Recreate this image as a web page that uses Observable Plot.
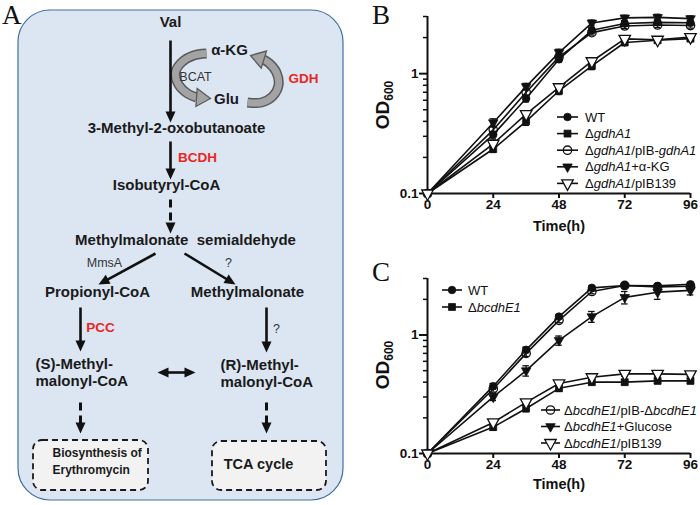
<!DOCTYPE html>
<html><head><meta charset="utf-8">
<script src="https://cdn.jsdelivr.net/npm/d3@7"></script>
<script src="https://cdn.jsdelivr.net/npm/@observablehq/plot@0.6"></script>
<style>
html,body{margin:0;padding:0;background:#fff;}
#fig{position:relative;width:700px;height:505px;overflow:hidden;background:#fff;font-family:"Liberation Sans",Arial,sans-serif;}
.pane{position:absolute;}
.pane svg{display:block;}
.letter{position:absolute;font-family:"Liberation Serif","Times New Roman",serif;font-size:27px;line-height:30px;color:#111;}
</style></head><body><div id="fig"></div>
<script>
// ---------------- DATA ----------------
const time = [0, 24, 36, 48, 60, 72, 84, 96];

// Panel B (OD600)
const bLabels = ["WT", "Δ_gdhA1_", "Δ_gdhA1_/pIB-_gdhA1_", "Δ_gdhA1_+α-KG", "Δ_gdhA1_/pIB139"];
const bWT     = [0.1, 0.31, 0.62, 1.32, 2.30, 2.62, 2.68, 2.66];
const bGdhA1  = [0.1, 0.235, 0.40, 0.72, 1.16, 1.82, 1.90, 1.96];
const bComp   = [0.1, 0.34, 0.70, 1.38, 2.20, 2.50, 2.55, 2.52];
const bAKG    = [0.1, 0.39, 0.78, 1.50, 2.65, 2.92, 2.95, 2.88];
const bPIB139 = [0.1, 0.26, 0.46, 0.77, 1.27, 1.95, 1.92, 2.02];
const bErrWT     = [0, 0.02, 0.04, 0.08, 0.12, 0.12, 0.15, 0.14];
const bErrGdhA1  = [0, 0.015, 0.03, 0.05, 0.08, 0.1, 0.1, 0.1];
const bErrComp   = [0, 0.02, 0.04, 0.08, 0.1, 0.12, 0.12, 0.12];
const bErrAKG    = [0, 0.03, 0.05, 0.1, 0.15, 0.15, 0.18, 0.15];
const bErrPIB139 = [0, 0.02, 0.03, 0.05, 0.08, 0.12, 0.1, 0.12];

// Panel C (OD600)
const cLabels = ["WT", "Δ_bcdhE1_", "Δ_bcdhE1_/pIB-Δ_bcdhE1_", "Δ_bcdhE1_+Glucose", "Δ_bcdhE1_/pIB139"];
const cWT     = [0.1, 0.37, 0.75, 1.43, 2.50, 2.62, 2.60, 2.68];
const cMut    = [0.1, 0.167, 0.24, 0.355, 0.40, 0.40, 0.41, 0.41];
const cComp   = [0.1, 0.35, 0.70, 1.33, 2.33, 2.62, 2.55, 2.58];
const cGlc    = [0.1, 0.30, 0.50, 0.90, 1.43, 2.08, 2.30, 2.38];
const cPIB139 = [0.1, 0.183, 0.27, 0.39, 0.44, 0.47, 0.47, 0.465];
const cErrWT     = [0, 0.02, 0.04, 0.06, 0.1, 0.1, 0.1, 0.1];
const cErrMut    = [0, 0.01, 0.015, 0.02, 0.02, 0.02, 0.02, 0.02];
const cErrComp   = [0, 0.02, 0.04, 0.06, 0.1, 0.1, 0.12, 0.1];
const cErrGlc    = [0, 0.02, 0.05, 0.08, 0.15, 0.25, 0.3, 0.2];
const cErrPIB139 = [0, 0.01, 0.015, 0.02, 0.02, 0.02, 0.02, 0.02];

const xTicks = [0, 24, 48, 72, 96];
const yMajor = [0.1, 1];
const yMinor = [0.2, 0.3, 0.4, 0.5, 0.6, 0.7, 0.8, 0.9, 2, 3];

// Panel A (pathway diagram) texts
const nodeText = ["Val", "3-Methyl-2-oxobutanoate", "Isobutyryl-CoA", "Methylmalonate\u00a0 semialdehyde",
                  "Propionyl-CoA", "Methylmalonate", "α-KG", "Glu"];
const sideText = ["(S)-Methyl-", "malonyl-CoA", "(R)-Methyl-", "malonyl-CoA"];
const enzymeText = ["BCAT", "GDH", "BCDH", "PCC", "MmsA", "?", "?"];
const enzymeKind = ["plain", "red", "red", "red", "plain", "plain", "plain"];
const boxText = ["Biosynthesis of", "Erythromycin", "TCA cycle"];

// ---------------- LAYOUT (diagram geometry, pixels) ----------------
const nodeX = [170, 176, 166, 185, 97, 247, 229, 226];
const nodeY = [22, 128, 185, 240, 292, 292, 50, 99];
const sideX = [35, 35, 220, 220];
const sideY = [364, 381, 365, 382];
const enzX = [195, 303, 197, 100, 104, 228, 276];
const enzY = [76, 78, 157, 327, 262, 262, 328];
const arrowsA = [
  {x1:170, y1:40,  x2:170, y2:122, dash:false},
  {x1:170, y1:141, x2:170, y2:179, dash:false},
  {x1:170, y1:199, x2:170, y2:233, dash:true},
  {x1:155, y1:253, x2:98,  y2:284, dash:false},
  {x1:184, y1:253, x2:235, y2:284, dash:false},
  {x1:80,  y1:307, x2:80,  y2:351, dash:false},
  {x1:266, y1:307, x2:266, y2:352, dash:false},
  {x1:157, y1:372, x2:195, y2:372, dash:false, both:true},
  {x1:80,  y1:402, x2:80,  y2:433, dash:true},
  {x1:266, y1:402, x2:266, y2:433, dash:true}
];
const ribbonL = [[206,53],[193,55],[181,62],[175,72],[178,84],[187,93],[196,97]];
const ribbonLTip = [210, 98];
const ribbonR = [[247,102],[261,102],[272,96],[278,85],[276,72],[269,63],[263,59]];
const ribbonRTip = [250, 55];

// ---------------- helpers ----------------
const FONT = "Liberation Sans, Arial, Helvetica, sans-serif";
const fig = document.getElementById("fig");
function place(el, left, top) {
  const d = document.createElement("div");
  d.className = "pane"; d.style.left = left + "px"; d.style.top = top + "px";
  d.appendChild(el); fig.appendChild(d); return el;
}
function letter(t, left, top) {
  const d = document.createElement("div");
  d.className = "letter"; d.textContent = t; d.style.left = left + "px"; d.style.top = top + "px";
  fig.appendChild(d);
}
// custom symbols
const headSym = (L, W) => ({draw(ctx) { ctx.moveTo(0, 0); ctx.lineTo(-W / 2, L); ctx.lineTo(W / 2, L); ctx.closePath(); }});
const triDown = (w, h) => ({draw(ctx) { ctx.moveTo(-w / 2, -h / 3); ctx.lineTo(w / 2, -h / 3); ctx.lineTo(0, 2 * h / 3); ctx.closePath(); }});

// ---------------- PANEL A ----------------
(function () {
  const HL = 11, HW = 10;
  const solid = [], dashed = [], heads = [];
  for (const a of arrowsA) {
    const dx = a.x2 - a.x1, dy = a.y2 - a.y1, len = Math.hypot(dx, dy), ux = dx / len, uy = dy / len;
    const ang = Math.atan2(dx, -dy) * 180 / Math.PI;
    const s = {x1: a.x1, y1: a.y1, x2: a.x2 - ux * HL * 0.7, y2: a.y2 - uy * HL * 0.7};
    heads.push({x: a.x2, y: a.y2, a: ang});
    if (a.both) { s.x1 = a.x1 + ux * HL * 0.7; s.y1 = a.y1 + uy * HL * 0.7; heads.push({x: a.x1, y: a.y1, a: ang + 180}); }
    (a.dash ? dashed : solid).push(s);
  }
  const grayHeads = [
    {x: ribbonLTip[0], y: ribbonLTip[1], src: ribbonL[ribbonL.length - 1]},
    {x: ribbonRTip[0], y: ribbonRTip[1], src: ribbonR[ribbonR.length - 1]}
  ].map(h => ({x: h.x, y: h.y, a: Math.atan2(h.x - h.src[0], -(h.y - h.src[1])) * 180 / Math.PI}));
  const idx = n => d3.range(n);
  const svg = Plot.plot({
    width: 345, height: 505, margin: 0,
    x: {domain: [0, 345], axis: null},
    y: {domain: [0, 505], reverse: true, axis: null},
    style: {fontFamily: FONT, background: "transparent", overflow: "visible"},
    marks: [
      Plot.rect([{x1: 18, x2: 343, y1: 10, y2: 500}], {x1: "x1", x2: "x2", y1: "y1", y2: "y2", rx: 32, fill: "#dce6f3", stroke: "#41719c", strokeWidth: 1.2}),
      Plot.rect([{x1: 33, x2: 148, y1: 440, y2: 490}, {x1: 212, x2: 326, y1: 441, y2: 490}],
        {x1: "x1", x2: "x2", y1: "y1", y2: "y2", rx: 9, fill: "#f2f2f2", stroke: "#1a1a1a", strokeWidth: 1.8, strokeDasharray: "6,4"}),
      // gray curved arrows (BCAT / GDH cycle)
      Plot.line(ribbonL, {x: d => d[0], y: d => d[1], curve: "catmull-rom", stroke: "#5a5a5a", strokeWidth: 10, strokeLinecap: "butt"}),
      Plot.line(ribbonL, {x: d => d[0], y: d => d[1], curve: "catmull-rom", stroke: "#a3a3a3", strokeWidth: 7, strokeLinecap: "butt"}),
      Plot.line(ribbonR, {x: d => d[0], y: d => d[1], curve: "catmull-rom", stroke: "#5a5a5a", strokeWidth: 10, strokeLinecap: "butt"}),
      Plot.line(ribbonR, {x: d => d[0], y: d => d[1], curve: "catmull-rom", stroke: "#a3a3a3", strokeWidth: 7, strokeLinecap: "butt"}),
      Plot.dot(grayHeads, {x: "x", y: "y", rotate: "a", symbol: headSym(14, 18), fill: "#a3a3a3", stroke: "#5a5a5a", strokeWidth: 1.3}),
      // black arrows
      Plot.link(solid, {x1: "x1", y1: "y1", x2: "x2", y2: "y2", stroke: "#111", strokeWidth: 2.6}),
      Plot.link(dashed, {x1: "x1", y1: "y1", x2: "x2", y2: "y2", stroke: "#111", strokeWidth: 3, strokeDasharray: "8,5"}),
      Plot.dot(heads, {x: "x", y: "y", rotate: "a", symbol: headSym(HL, HW), fill: "#111", stroke: "none"}),
      // texts
      Plot.text(idx(nodeText.length), {x: i => nodeX[i], y: i => nodeY[i], text: i => nodeText[i], fontWeight: "bold", fontSize: 15, fill: "#1a1a1a"}),
      Plot.text(idx(sideText.length), {x: i => sideX[i], y: i => sideY[i], text: i => sideText[i], textAnchor: "start", fontWeight: "bold", fontSize: 15, fill: "#1a1a1a"}),
      Plot.text(idx(enzymeText.length).filter(i => enzymeKind[i] === "red"), {x: i => enzX[i], y: i => enzY[i], text: i => enzymeText[i], fontWeight: "bold", fontSize: 13.5, fill: "#e8261f"}),
      Plot.text(idx(enzymeText.length).filter(i => enzymeKind[i] !== "red"), {x: i => enzX[i], y: i => enzY[i], text: i => enzymeText[i], fontSize: 12.5, fill: "#333"}),
      Plot.text([0, 1], {x: 52, y: i => [453, 470][i], text: i => boxText[i], textAnchor: "start", fontWeight: "bold", fontSize: 12, fill: "#1a1a1a"}),
      Plot.text([2], {x: 258, y: 464, text: i => boxText[i], fontWeight: "bold", fontSize: 14.5, fill: "#1a1a1a"})
    ]
  });
  place(svg, 0, 0);
})();

// ---------------- PANELS B & C ----------------
const markerStyles = {
  dot:     {symbol: "circle", r: 3.8, fill: "#111", stroke: "#111", strokeWidth: 0.8},
  square:  {symbol: "square", r: 3.9, fill: "#111", stroke: "#111", strokeWidth: 0.8},
  ring:    {symbol: "circle", r: 4.2, fill: "none", stroke: "#111", strokeWidth: 1.3},
  tri:     {symbol: triDown(9.5, 8.5), fill: "#111", stroke: "#111", strokeWidth: 0.8},
  opentri: {symbol: triDown(11.5, 10.5), fill: "white", stroke: "#111", strokeWidth: 1.3}
};
const kinds = ["dot", "square", "ring", "tri", "opentri"];

function growthChart({series, errs, labels, width, height, mt, mb, odY, timeDy, legends}) {
  const rows = [];
  series.forEach((vals, s) => vals.forEach((v, i) => rows.push({s, t: time[i], v, e: errs[s][i]})));
  const marks = [
    Plot.axisX({ticks: xTicks, tickSize: 5, tickPadding: 1, fontSize: 13.5, fontWeight: "bold", strokeWidth: 2, label: null, tickFormat: d => String(d)}),
    Plot.axisY({ticks: yMajor, tickSize: 8, tickPadding: 1, fontSize: 13.5, fontWeight: "bold", strokeWidth: 2, label: null, tickFormat: d => d === 1 ? "1" : "0.1"}),
    Plot.axisY({ticks: yMinor, tickSize: 4, strokeWidth: 1.5, label: null, tickFormat: () => ""}),
    Plot.ruleX([0], {stroke: "#111", strokeWidth: 2}),
    Plot.ruleY([0.1], {stroke: "#111", strokeWidth: 2}),
    Plot.text(["Time(h)"], {frameAnchor: "bottom", dy: timeDy, fontSize: 14.5, fontWeight: "bold", fill: "#111"})
  ];
  series.forEach((_, s) => {
    const r = rows.filter(d => d.s === s);
    marks.push(Plot.line(r, {x: "t", y: "v", stroke: "#111", strokeWidth: 1.6}));
  });
  const er = rows.filter(d => d.e > 0);
  marks.push(Plot.ruleX(er, {x: "t", y1: d => d.v - d.e, y2: d => d.v + d.e, stroke: "#111", strokeWidth: 1.3}));
  marks.push(Plot.ruleY(er, {y: d => d.v + d.e, x1: d => d.t - 1.2, x2: d => d.t + 1.2, stroke: "#111", strokeWidth: 1.3}));
  marks.push(Plot.ruleY(er, {y: d => d.v - d.e, x1: d => d.t - 1.2, x2: d => d.t + 1.2, stroke: "#111", strokeWidth: 1.3}));
  series.forEach((_, s) => {
    const r = rows.filter(d => d.s === s);
    marks.push(Plot.dot(r, {x: "t", y: "v", ...markerStyles[kinds[s]]}));
  });
  const svg = Plot.plot({
    width, height, marginLeft: 57, marginRight: 10, marginTop: mt, marginBottom: mb,
    x: {domain: [0, 96]},
    y: {type: "log", domain: [0.1, 3]},
    style: {fontFamily: FONT, background: "transparent", overflow: "visible", color: "#111"},
    marks
  });
  const g = d3.select(svg);
  // OD600 label
  const od = g.append("text").attr("transform", `translate(19,${odY}) rotate(-90)`).attr("text-anchor", "middle")
    .attr("font-family", FONT).attr("font-weight", "bold").attr("fill", "#111");
  od.append("tspan").attr("font-size", 19).text("OD");
  od.append("tspan").attr("font-size", 12).attr("dy", 4).text("600");
  // legends
  for (const L of legends) {
    L.items.forEach((s, k) => {
      const y = L.y0 + k * L.dy;
      const gg = g.append("g");
      gg.append("line").attr("x1", L.lx1).attr("x2", L.lx2).attr("y1", y).attr("y2", y).attr("stroke", "#111").attr("stroke-width", 1.6);
      const m = markerStyles[kinds[s]];
      const type = typeof m.symbol === "string" ? (m.symbol === "circle" ? d3.symbolCircle : d3.symbolSquare) : m.symbol;
      gg.append("path").attr("d", d3.symbol().type(type).size(Math.PI * (m.r || 4) * (m.r || 4))())
        .attr("transform", `translate(${(L.lx1 + L.lx2) / 2},${y})`)
        .attr("fill", m.fill).attr("stroke", m.stroke).attr("stroke-width", m.strokeWidth);
      const t = gg.append("text").attr("x", L.tx).attr("y", y).attr("dy", "0.36em").attr("text-anchor", "start")
        .attr("font-family", FONT).attr("font-size", 13).attr("fill", "#111");
      labels[s].split("_").forEach((seg, i) => { if (seg) t.append("tspan").attr("font-style", i % 2 ? "italic" : "normal").text(seg); });
    });
  }
  return svg;
}

place(growthChart({
  series: [bWT, bGdhA1, bComp, bAKG, bPIB139],
  errs: [bErrWT, bErrGdhA1, bErrComp, bErrAKG, bErrPIB139],
  labels: bLabels, width: 330, height: 250, mt: 16, mb: 57, odY: 105, timeDy: 37,
  legends: [{items: [0, 1, 2, 3, 4], y0: 117, dy: 16.6, lx1: 187, lx2: 208, tx: 215}]
}), 370, 0);

place(growthChart({
  series: [cWT, cMut, cComp, cGlc, cPIB139],
  errs: [cErrWT, cErrMut, cErrComp, cErrGlc, cErrPIB139],
  labels: cLabels, width: 330, height: 255, mt: 28, mb: 52, odY: 115, timeDy: 35,
  legends: [
    {items: [0, 1], y0: 40, dy: 17, lx1: 72, lx2: 92, tx: 98},
    {items: [2, 3, 4], y0: 160, dy: 16.5, lx1: 171, lx2: 190, tx: 194}
  ]
}), 370, 250);

letter("A", 2, 0);
letter("B", 372, 0);
letter("C", 372, 257);
</script></body></html>
